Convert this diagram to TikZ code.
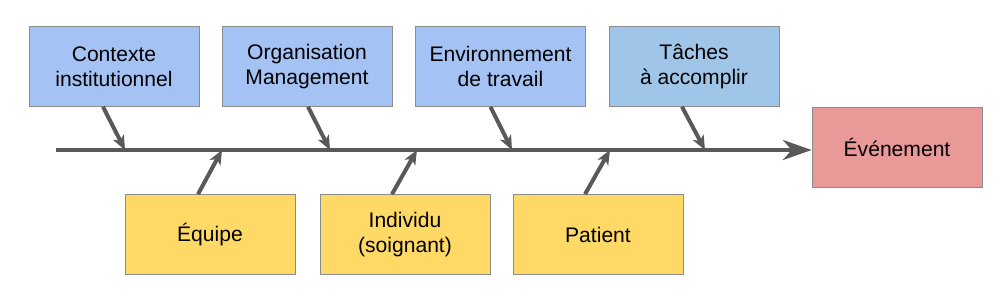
\documentclass[tikz,border=0pt]{standalone}
\usepackage{fontspec}
\setmainfont{Liberation Sans}
\usetikzlibrary{calc,arrows.meta}
\definecolor{causeblue}{HTML}{A4C2F4}
\definecolor{taskblue}{HTML}{9FC5E8}
\definecolor{causeyellow}{HTML}{FFD966}
\definecolor{eventred}{HTML}{EA9999}
\definecolor{bonegray}{HTML}{595959}
\tikzset{
    causebox/.style={draw=gray!90, fill=causeblue, minimum width=4.25cm, minimum height=2cm,
        align=center, inner sep=0pt, font=\fontsize{15}{17.5}\selectfont},
    bone/.style={bonegray, line width=0.1cm, -{Stealth[length=0.36cm, width=0.3cm, inset=0.1cm]}},
    spine/.style={bonegray, line width=0.1cm, -{Stealth[length=0.72cm, width=0.5cm, inset=0.22cm]}}
}
\begin{document}
\begin{tikzpicture}[x=0.025cm, y=-0.025cm]
    \useasboundingbox (0,0) rectangle (1007,300);
    %
    \coordinate (tail) at (56,150);
    \node[causebox, fill=eventred] (evt) at (897,147) {Événement};

    %
    \node[causebox] (ctx) at (114,66.5) {Contexte\\institutionnel};
    \node[causebox] (org) at (307,66.5) {Organisation\\Management};
    \node[causebox] (env) at (500.5,66.5) {Environnement\\de travail};
    \node[causebox, fill=taskblue] (tsk) at (694,66.5) {Tâches\\à accomplir};

    %
    \node[causebox, fill=causeyellow] (eqp) at (210,234.5) {Équipe};
    \node[causebox, fill=causeyellow] (ind) at (405,234.5) {Individu\\(soignant)};
    \node[causebox, fill=causeyellow] (pat) at (598,234.5) {Patient};

    %
    \draw[spine] (tail) -- (evt.west |- tail);

    %
    \coordinate (s1) at (125,150);
    \coordinate (s2) at (222,150);
    \coordinate (s3) at (330,150);
    \coordinate (s4) at (417,150);
    \coordinate (s5) at (512,150);
    \coordinate (s6) at (610,150);
    \coordinate (s7) at (705,150);

    %
    \draw[bone] ($(ctx.south)+(-11,0)$) -- (s1);
    \draw[bone] ($(org.south)+(1,0)$) -- (s3);
    \draw[bone] ($(env.south)+(-10,0)$) -- (s5);
    \draw[bone] ($(tsk.south)+(-12,0)$) -- (s7);

    %
    \draw[bone] ($(eqp.north)+(-12,0)$) -- (s2);
    \draw[bone] ($(ind.north)+(-13,0)$) -- (s4);
    \draw[bone] ($(pat.north)+(-13,0)$) -- (s6);

\end{tikzpicture}
\end{document}
